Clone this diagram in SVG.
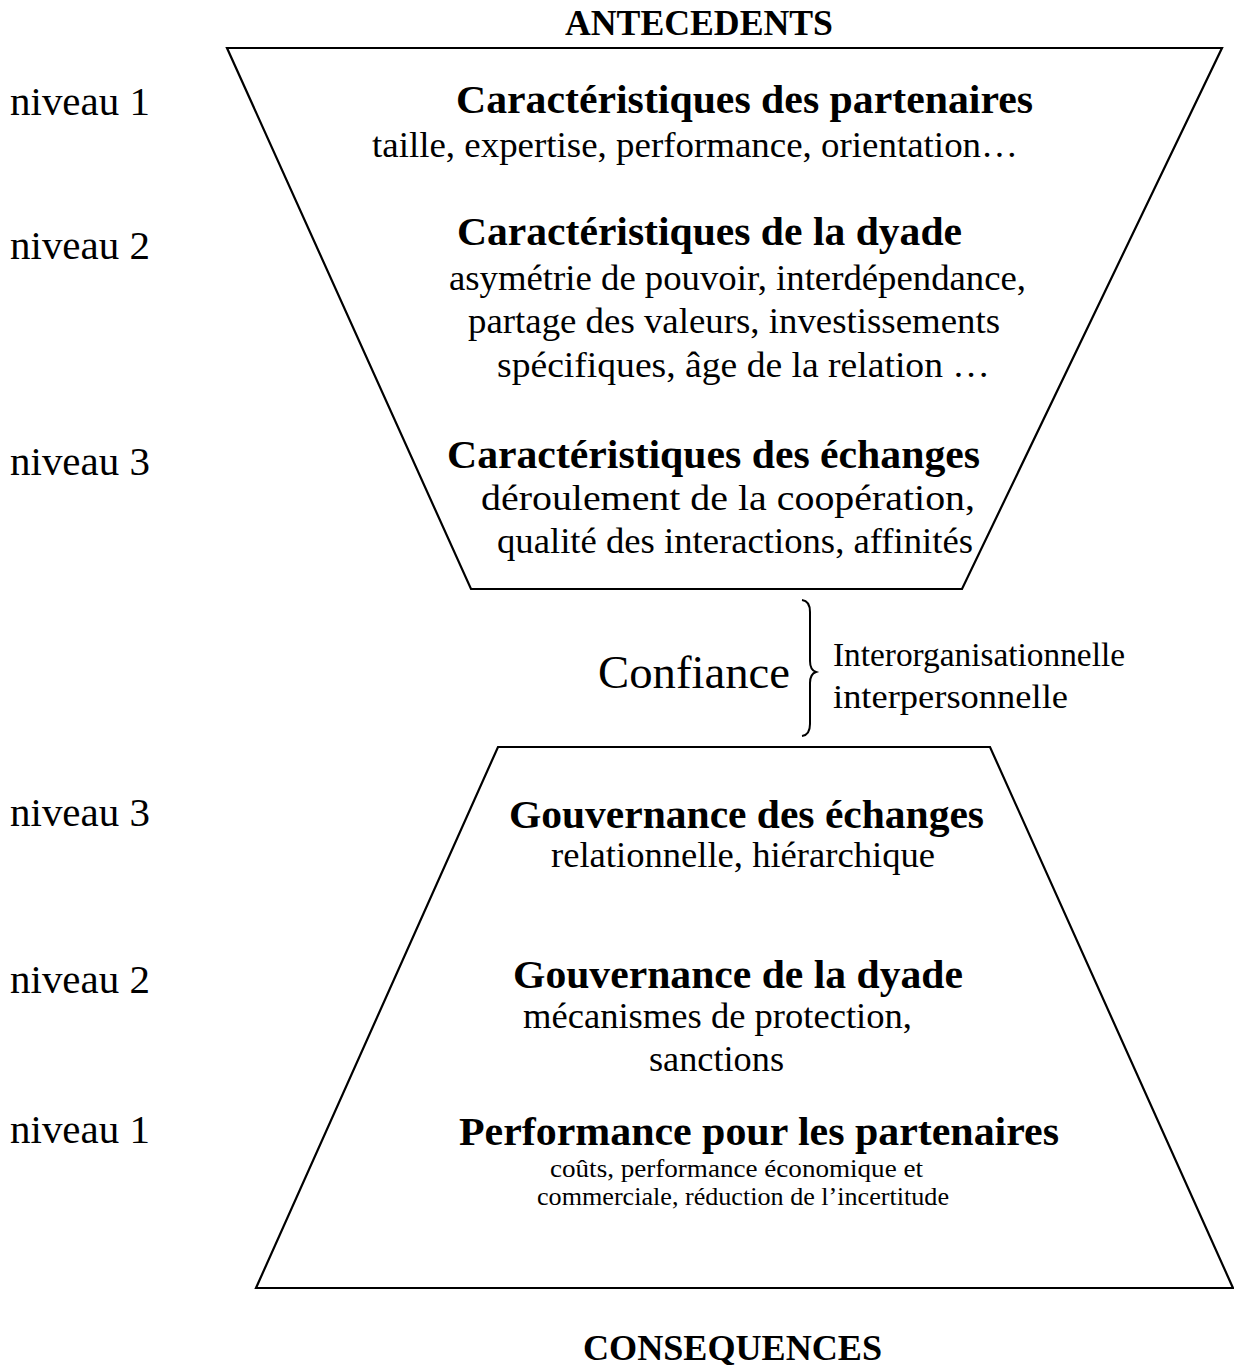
<svg xmlns="http://www.w3.org/2000/svg" width="1234" height="1369" viewBox="0 0 1234 1369">
<style>
text{font-family:"Liberation Serif","Times New Roman",serif;fill:#000}
.b{font-weight:bold;font-size:40px}
.r{font-size:35px}
.h{font-weight:bold;font-size:35px}
.n{font-size:39px}
.s{font-size:26px}
.shape{fill:#fff;stroke:#000;stroke-width:2.2}
</style>
<rect width="1234" height="1369" fill="#fff"/>
<g id="antecedents-label"><text class="h" x="565" y="35" textLength="268" lengthAdjust="spacingAndGlyphs">ANTECEDENTS</text></g>
<g id="levels">
<text class="n" x="10" y="115" textLength="140" lengthAdjust="spacingAndGlyphs">niveau 1</text>
<text class="n" x="10" y="259" textLength="140" lengthAdjust="spacingAndGlyphs">niveau 2</text>
<text class="n" x="10" y="475" textLength="140" lengthAdjust="spacingAndGlyphs">niveau 3</text>
<text class="n" x="10" y="826" textLength="140" lengthAdjust="spacingAndGlyphs">niveau 3</text>
<text class="n" x="10" y="993" textLength="140" lengthAdjust="spacingAndGlyphs">niveau 2</text>
<text class="n" x="10" y="1143" textLength="140" lengthAdjust="spacingAndGlyphs">niveau 1</text>
</g>
<g id="antecedents">
<polygon class="shape" points="227,48 1222,48 962,589 471,589"/>
<text class="b" x="456" y="113" textLength="577" lengthAdjust="spacingAndGlyphs">Caractéristiques des partenaires</text>
<text class="r" x="372" y="157" textLength="646" lengthAdjust="spacingAndGlyphs">taille, expertise, performance, orientation…</text>
<text class="b" x="457" y="245" textLength="505" lengthAdjust="spacingAndGlyphs">Caractéristiques de la dyade</text>
<text class="r" x="449" y="290" textLength="577" lengthAdjust="spacingAndGlyphs">asymétrie de pouvoir, interdépendance,</text>
<text class="r" x="468" y="333" textLength="532" lengthAdjust="spacingAndGlyphs">partage des valeurs, investissements</text>
<text class="r" x="497" y="377" textLength="493" lengthAdjust="spacingAndGlyphs">spécifiques, âge de la relation …</text>
<text class="b" x="447" y="468" textLength="533" lengthAdjust="spacingAndGlyphs">Caractéristiques des échanges</text>
<text class="r" x="481" y="510" textLength="494" lengthAdjust="spacingAndGlyphs">déroulement de la coopération,</text>
<text class="r" x="497" y="553" textLength="476" lengthAdjust="spacingAndGlyphs">qualité des interactions, affinités</text>
</g>
<g id="confiance">
<text x="598" y="688" font-size="46" textLength="192" lengthAdjust="spacingAndGlyphs">Confiance</text>
<path d="M802,600 Q810,601 810,612 L810,661 Q810,670 816,672 Q810,674 810,683 L810,724 Q810,735 802,736" fill="none" stroke="#000" stroke-width="2"/>
<text x="833" y="666" font-size="33" textLength="292" lengthAdjust="spacingAndGlyphs">Interorganisationnelle</text>
<text x="833" y="708" font-size="33" textLength="235" lengthAdjust="spacingAndGlyphs">interpersonnelle</text>
</g>
<g id="consequences">
<polygon class="shape" points="498,747 990,747 1233,1288 256,1288"/>
<text class="b" x="509" y="828" textLength="475" lengthAdjust="spacingAndGlyphs">Gouvernance des échanges</text>
<text class="r" x="551" y="867" textLength="384" lengthAdjust="spacingAndGlyphs">relationnelle, hiérarchique</text>
<text class="b" x="513" y="988" textLength="450" lengthAdjust="spacingAndGlyphs">Gouvernance de la dyade</text>
<text class="r" x="523" y="1028" textLength="389" lengthAdjust="spacingAndGlyphs">mécanismes de protection,</text>
<text class="r" x="649" y="1071" textLength="135" lengthAdjust="spacingAndGlyphs">sanctions</text>
<text class="b" x="459" y="1145" textLength="600" lengthAdjust="spacingAndGlyphs">Performance pour les partenaires</text>
<text class="s" x="550" y="1177" textLength="373" lengthAdjust="spacingAndGlyphs">coûts, performance économique et</text>
<text class="s" x="537" y="1205" textLength="412" lengthAdjust="spacingAndGlyphs">commerciale, réduction de l’incertitude</text>
</g>
<g id="consequences-label"><text class="h" x="583" y="1360" textLength="299" lengthAdjust="spacingAndGlyphs">CONSEQUENCES</text></g>
<g id="connectors"></g>
</svg>
